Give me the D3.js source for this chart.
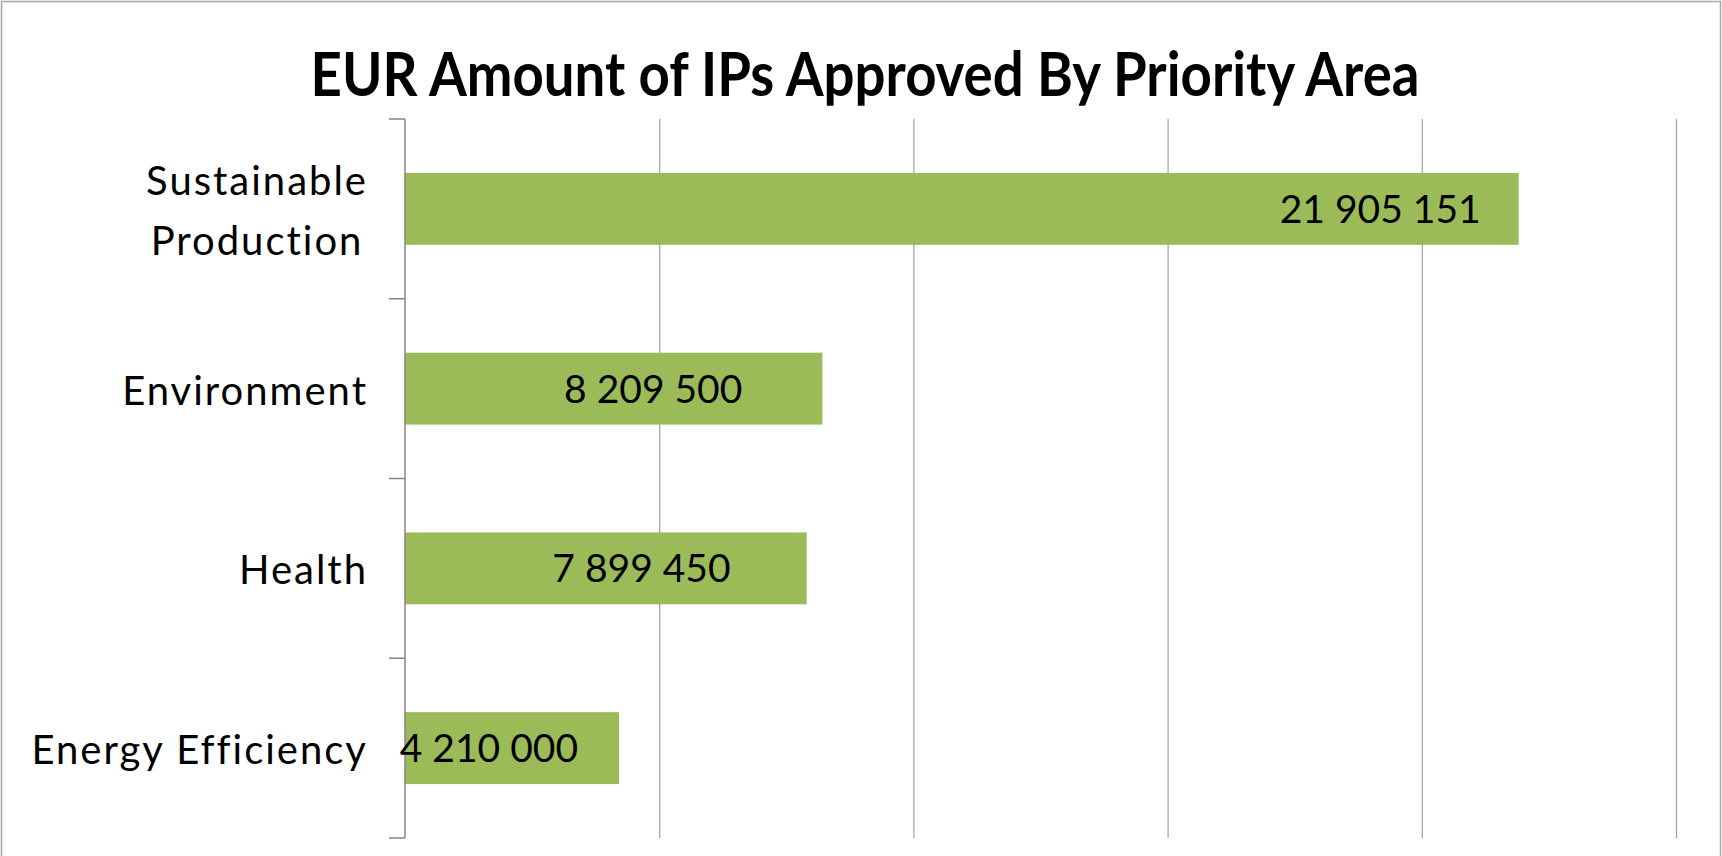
<!DOCTYPE html>
<html>
<head>
<meta charset="utf-8">
<script src="https://cdn.jsdelivr.net/npm/d3@7"></script>
<style>
  body { margin: 0; background: #fff; }
  text { font-family: Lato, 'Noto Sans', sans-serif; fill: #000; }
</style>
</head>
<body>
<div class="chart"></div>
<script>
const svgWidth = 1722;
const svgHeight = 856;

// chart data
const categories = ['Sustainable Production', 'Environment', 'Health', 'Energy Efficiency'];
const amounts = [21905151, 8209500, 7899450, 4210000];
const valueLabels = ['21 905 151', '8 209 500', '7 899 450', '4 210 000'];

// manual nudge of the data labels (px from bar end), as placed in the original
const labelNudge = [-38, -80, -76, -41];

const margin = { top: 119, right: 45, bottom: 18, left: 405 };
const width = 1676 - margin.left;
const height = 838 - margin.top;

const svg = d3.select('.chart')
  .append('svg')
  .attr('width', svgWidth)
  .attr('height', svgHeight);

// outer chart border
svg.append('rect')
  .attr('x', 1.5).attr('y', 1.5)
  .attr('width', svgWidth - 3).attr('height', svgHeight + 20)
  .attr('fill', 'none')
  .attr('stroke', '#a6a6a6')
  .attr('stroke-width', 1.5);

svg.append('text')
  .attr('x', 865)
  .attr('y', 96)
  .attr('text-anchor', 'middle')
  .attr('font-weight', 'bold')
  .attr('font-size', 62)
  .attr('textLength', 1109)
  .attr('lengthAdjust', 'spacingAndGlyphs')
  .text('EUR Amount of IPs Approved By Priority Area');

const chartGroup = svg.append('g')
  .attr('transform', `translate(${margin.left}, ${margin.top})`);

const x = d3.scaleLinear()
  .domain([0, 25000000])
  .range([0, width]);

const y = d3.scaleBand()
  .domain(categories)
  .range([0, height])
  .padding(0);

// vertical gridlines
chartGroup.append('g')
  .attr('class', 'grid')
  .call(d3.axisBottom(x).tickValues(x.ticks(5).filter(d => d > 0)).tickSize(height).tickFormat(''))
  .call(g => g.select('.domain').remove())
  .call(g => g.selectAll('line').attr('stroke', '#a0a0a0').attr('stroke-width', 1.2));

// bars
const barH = y.bandwidth() * 0.4;
chartGroup.selectAll('rect.bar')
  .data(amounts)
  .enter()
  .append('rect')
  .attr('class', 'bar')
  .attr('x', 0)
  .attr('y', (d, i) => y(categories[i]) + (y.bandwidth() - barH) / 2)
  .attr('width', d => x(d))
  .attr('height', barH)
  .attr('fill', '#9bbb59');

// left axis with ticks at category boundaries
const leftAxis = chartGroup.append('g').attr('class', 'y-axis');
leftAxis.append('line')
  .attr('x1', 0).attr('x2', 0)
  .attr('y1', 0).attr('y2', height)
  .attr('stroke', '#868686').attr('stroke-width', 1.5);
const bounds = categories.map(c => y(c)).concat([height]);
leftAxis.selectAll('line.tick')
  .data(bounds)
  .enter()
  .append('line')
  .attr('class', 'tick')
  .attr('x1', -16).attr('x2', 0)
  .attr('y1', d => d).attr('y2', d => d)
  .attr('stroke', '#868686').attr('stroke-width', 1.5);

// category labels
const catFont = 40;
categories.forEach(function(c, i) {
  const cy = y(c) + y.bandwidth() / 2 + 16;
  const words = c === 'Sustainable Production' ? ['Sustainable', 'Production'] : [c];
  if (words.length === 1) {
    chartGroup.append('text')
      .attr('x', -37)
      .attr('y', cy)
      .attr('text-anchor', 'end')
      .attr('font-size', catFont)
      .attr('letter-spacing', 2)
      .text(c);
  } else {
    const t = chartGroup.append('text')
      .attr('font-size', catFont)
      .attr('letter-spacing', 2)
      .attr('text-anchor', 'middle');
    const lines = words.map((w, k) => t.append('tspan')
      .attr('y', cy - 30 + k * 60)
      .text(w));
    const maxW = d3.max(lines, l => l.node().getComputedTextLength());
    lines.forEach(l => l.attr('x', -37 - maxW / 2));
  }
});

// value labels
chartGroup.selectAll('text.value')
  .data(amounts)
  .enter()
  .append('text')
  .attr('class', 'value')
  .attr('x', (d, i) => x(d) + labelNudge[i])
  .attr('y', (d, i) => y(categories[i]) + y.bandwidth() / 2 + 14)
  .attr('text-anchor', 'end')
  .attr('font-size', 39)
  .text((d, i) => valueLabels[i]);
</script>
</body>
</html>
